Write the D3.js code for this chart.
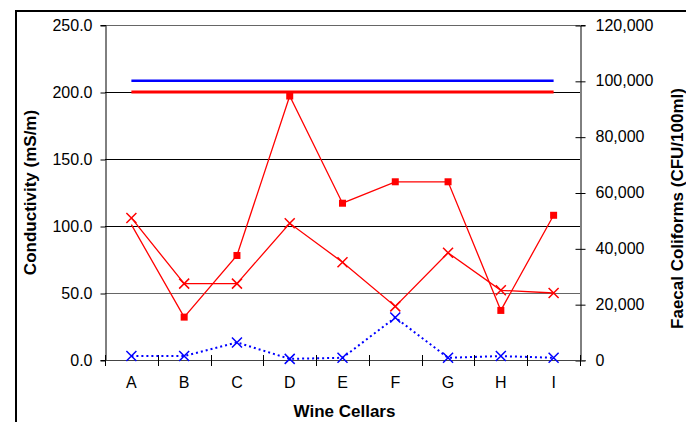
<!DOCTYPE html>
<html>
<head>
<meta charset="utf-8">
<script src="https://cdn.jsdelivr.net/npm/d3@7"></script>
<style>
  html, body { margin: 0; padding: 0; background: #fff; }
  svg { display: block; font-family: "Liberation Sans", Arial, sans-serif; }
</style>
</head>
<body>
<svg id="chart" width="686" height="422"></svg>
<script>
// ---- data ----
const categories = ["A", "B", "C", "D", "E", "F", "G", "H", "I"];
const conductivitySquares = [101, 32, 78, 197, 117, 133, 133, 37, 108];
const squareMarkerShown = [false, true, true, true, true, true, true, true, true];
const conductivityCrosses = [106, 57, 57, 102, 73, 40, 80, 52, 50];
const coliforms = [1400, 1400, 6300, 400, 800, 15200, 800, 1400, 800];
const conductivityLimit = 200;
const coliformLimit = 100000;
const leftTicks = [0, 50, 100, 150, 200, 250];
const rightTicks = [0, 20000, 40000, 60000, 80000, 100000, 120000];
const leftTitle = "Conductivity (mS/m)";
const rightTitle = "Faecal Coliforms (CFU/100ml)";
const xTitle = "Wine Cellars";

// ---- layout ----
const svg = d3.select("#chart");
const L = 105, R = 580, T = 25, B = 360;
const RED = "#FF0000", BLUE = "#0000FF";

const x = d3.scaleBand().domain(categories).range([L, R]).padding(0);
const cx = c => x(c) + x.bandwidth() / 2;
const yL = d3.scaleLinear().domain([0, 250]).range([B, T]);
const yR = d3.scaleLinear().domain([0, 120000]).range([B, T]);

// outer border (cropped)
svg.append("path")
  .attr("d", `M16,422V11H686`)
  .attr("fill", "none").attr("stroke", "#000").attr("stroke-width", 2);

// gridlines
svg.append("g").selectAll("line").data(leftTicks.filter(d => d > 0)).join("line")
  .attr("x1", L).attr("x2", R)
  .attr("y1", d => yL(d) + 0.5).attr("y2", d => yL(d) + 0.5)
  .attr("stroke", d => (d === 50 || d === 250) ? "#666" : "#000")
  .attr("stroke-width", 1).attr("shape-rendering", "crispEdges");

// left axis
const gL = svg.append("g").attr("transform", `translate(${L + 0.5},0)`)
  .call(d3.axisLeft(yL).tickValues(leftTicks).tickFormat(d3.format(".1f")).tickSize(5).tickPadding(8));
gL.select(".domain").attr("stroke", "#000");
gL.selectAll(".tick line").attr("transform", "translate(0,0.5)");
gL.selectAll("text").attr("font-size", 16).attr("font-family", "Liberation Sans, Arial, sans-serif").attr("fill", "#000");

// right axis
const gR = svg.append("g").attr("transform", `translate(${R + 0.5},0)`)
  .call(d3.axisRight(yR).tickValues(rightTicks).tickFormat(d3.format(",")).tickSize(5).tickPadding(10));
gR.select(".domain").attr("stroke", "#000");
gR.selectAll(".tick line").attr("x1", -5).attr("x2", 5).attr("transform", "translate(0,0.5)");
gR.selectAll("text").attr("font-size", 16).attr("font-family", "Liberation Sans, Arial, sans-serif").attr("fill", "#000");

// bottom axis line + boundary ticks
svg.append("line").attr("x1", L).attr("x2", R + 5).attr("y1", B + 0.5).attr("y2", B + 0.5)
  .attr("stroke", "#444").attr("stroke-width", 1);
const bounds = categories.map(c => x(c)).concat([x.range()[1]]);
svg.append("g").selectAll("line").data(bounds).join("line")
  .attr("x1", d => Math.round(d) + 0.5).attr("x2", d => Math.round(d) + 0.5)
  .attr("y1", B - 5).attr("y2", B + 6).attr("stroke", "#000");
svg.append("g").selectAll("text").data(categories).join("text")
  .attr("x", d => cx(d)).attr("y", B + 28)
  .attr("text-anchor", "middle").attr("font-size", 16).text(d => d);

// titles
svg.append("text").attr("transform", `translate(36,${(T + B) / 2}) rotate(-90)`)
  .attr("text-anchor", "middle").attr("font-weight", "bold").attr("font-size", 17).text(leftTitle);
svg.append("text").attr("transform", `translate(683,${(T + B) / 2 + 16}) rotate(-90)`)
  .attr("text-anchor", "middle").attr("font-weight", "bold").attr("font-size", 17).text(rightTitle);
svg.append("text").attr("x", (L + R) / 2 + 2).attr("y", 417)
  .attr("text-anchor", "middle").attr("font-weight", "bold").attr("font-size", 17).text(xTitle);

// limit lines
const first = categories[0], last = categories[categories.length - 1];
svg.append("line").attr("x1", cx(first)).attr("x2", cx(last))
  .attr("y1", yR(coliformLimit)).attr("y2", yR(coliformLimit))
  .attr("stroke", BLUE).attr("stroke-width", 2.5);
svg.append("line").attr("x1", cx(first)).attr("x2", cx(last))
  .attr("y1", yL(conductivityLimit)).attr("y2", yL(conductivityLimit))
  .attr("stroke", RED).attr("stroke-width", 3);

const xPath = "M-5,-5L5,5M-5,5L5,-5";

// blue dotted coliform series
const lineR = d3.line().x((d, i) => cx(categories[i])).y(d => yR(d));
svg.append("path").datum(coliforms).attr("d", lineR)
  .attr("fill", "none").attr("stroke", BLUE).attr("stroke-width", 2).attr("stroke-dasharray", "2,3");
svg.append("g").selectAll("path").data(coliforms).join("path")
  .attr("transform", (d, i) => `translate(${cx(categories[i])},${yR(d)})`)
  .attr("d", xPath).attr("fill", "none").attr("stroke", BLUE).attr("stroke-width", 1.5);

// red cross series
const lineL = d3.line().x((d, i) => cx(categories[i])).y(d => yL(d));
svg.append("path").datum(conductivityCrosses).attr("d", lineL)
  .attr("fill", "none").attr("stroke", RED).attr("stroke-width", 1.3);
svg.append("g").selectAll("path").data(conductivityCrosses).join("path")
  .attr("transform", (d, i) => `translate(${cx(categories[i])},${yL(d)})`)
  .attr("d", xPath).attr("fill", "none").attr("stroke", RED).attr("stroke-width", 1.5);

// red square series
svg.append("path").datum(conductivitySquares).attr("d", lineL)
  .attr("fill", "none").attr("stroke", RED).attr("stroke-width", 1.3);
svg.append("g").selectAll("rect").data(conductivitySquares.map((v, i) => ({ v, i })).filter(d => squareMarkerShown[d.i])).join("rect")
  .attr("x", d => cx(categories[d.i]) - 3.5).attr("y", d => yL(d.v) - 3.5)
  .attr("width", 7).attr("height", 7).attr("fill", RED);
</script>
</body>
</html>
